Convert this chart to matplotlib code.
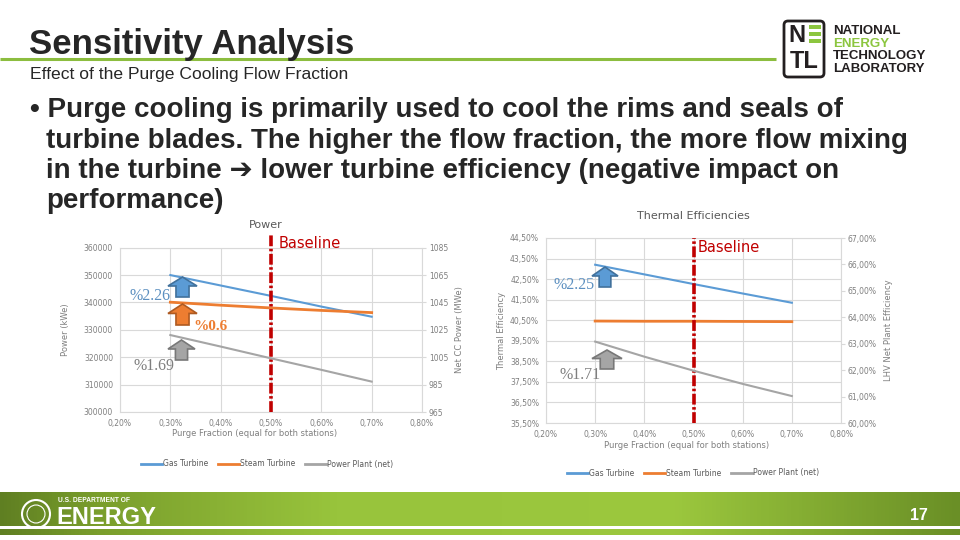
import numpy as np
import matplotlib
matplotlib.use('Agg')
import matplotlib.pyplot as plt
from matplotlib.patches import Polygon, Rectangle, FancyBboxPatch, Circle
from matplotlib.lines import Line2D
from matplotlib.ticker import FuncFormatter
from matplotlib.colors import LinearSegmentedColormap

# ---------------- data ----------------
purge = [0.003, 0.004, 0.005, 0.006, 0.007]
power_gt = [350000, 346200, 342400, 338500, 334800]      # kWe (left axis)
power_st = [340100, 339000, 338000, 337100, 336300]      # kWe (left axis)
power_net = [1021.2, 1012.8, 1004.2, 995.8, 987.2]       # MWe (right axis)
eff_gt = [43.20, 42.73, 42.26, 41.80, 41.35]             # % (left axis)
eff_st = [40.46, 40.45, 40.45, 40.44, 40.43]             # % (left axis)
eff_net = [63.08, 62.51, 61.98, 61.48, 61.02]            # % (right axis)
baseline = 0.005
series = ['Gas Turbine', 'Steam Turbine', 'Power Plant (net)']
colors = ['#5b9bd5', '#ed7d31', '#a5a5a5']
power_changes = ['%2.26', '%0.6', '%1.69']
eff_changes = ['%2.25', '%1.71']
x_ticks = [0.002, 0.003, 0.004, 0.005, 0.006, 0.007, 0.008]
power_left_ticks = [300000, 310000, 320000, 330000, 340000, 350000, 360000]
power_right_ticks = [965, 985, 1005, 1025, 1045, 1065, 1085]
eff_left_ticks = [35.5, 36.5, 37.5, 38.5, 39.5, 40.5, 41.5, 42.5, 43.5, 44.5]
eff_right_ticks = [60, 61, 62, 63, 64, 65, 66, 67]
bullet_lines = ['\u2022 Purge cooling is primarily used to cool the rims and seals of',
                'turbine blades. The higher the flow fraction, the more flow mixing',
                'in the turbine \u2794 lower turbine efficiency (negative impact on',
                'performance)']

W, H = 960, 540
fig = plt.figure(figsize=(9.6, 5.4), dpi=100)
fig.patch.set_facecolor('white')

GRID = '#d9d9d9'
TXT = '#7f7f7f'
BASE = '#c00000'
SANS = ['Liberation Sans', 'DejaVu Sans']


def px_rect(x0, y0, x1, y1):
    return [x0 / W, 1 - y1 / H, (x1 - x0) / W, (y1 - y0) / H]


def pct_x(v, p):
    return f"{v*100:.2f}%".replace('.', ',')


def style_axes(ax):
    ax.set_facecolor('white')
    for s in ax.spines.values():
        s.set_color(GRID)
        s.set_linewidth(0.8)
    ax.tick_params(labelsize=5.5, colors=TXT, length=0, pad=5)
    ax.grid(True, color=GRID, linewidth=0.8)
    ax.set_axisbelow(True)


# ---------------- left chart: Power ----------------
ax1 = fig.add_axes(px_rect(120, 247.7, 422, 412))
style_axes(ax1)
ax1.set_xlim(0.002, 0.008)
ax1.set_ylim(300000, 360000)
ax1.set_xticks(x_ticks)
ax1.set_yticks(power_left_ticks)
ax1.xaxis.set_major_formatter(FuncFormatter(pct_x))
ax1.plot(purge, power_gt, color=colors[0], lw=1.5, zorder=3)
ax1.plot(purge, power_st, color=colors[1], lw=2.0, zorder=3)
ax1.axvline(baseline, ymin=0, ymax=1.085, clip_on=False, color=BASE, lw=2.6,
            dashes=(3, 0.7, 0.7, 0.7), zorder=5)
ax1b = ax1.twinx()
ax1b.set_ylim(965, 1085)
ax1b.set_yticks(power_right_ticks)
for s in ax1b.spines.values():
    s.set_visible(False)
ax1b.tick_params(labelsize=5.5, colors=TXT, length=3, width=0.8, pad=2)
ax1b.tick_params(axis='y', color=GRID)
ax1b.plot(purge, power_net, color=colors[2], lw=1.5, zorder=3)
ax1.set_ylabel('Power (kWe)', fontsize=6, color=TXT)
ax1.yaxis.set_label_coords(-0.165, 0.5)
ax1b.set_ylabel('Net CC Power (MWe)', fontsize=6, color=TXT)
ax1b.yaxis.set_label_coords(1.11, 0.5)
ax1.set_xlabel('Purge Fraction (equal for both stations)', fontsize=6, color=TXT)
ax1.xaxis.set_label_coords(0.444, -0.105)

handles = [Line2D([], [], color=c, lw=2) for c in colors]
leg1 = ax1.legend(handles, series, loc='center', bbox_to_anchor=(267 / W, 1 - 464 / H),
                  bbox_transform=fig.transFigure, ncol=3, frameon=False, fontsize=5.5,
                  handlelength=2.8, handletextpad=0.15, columnspacing=1.2)
for t in leg1.get_texts():
    t.set_color('#595959')

# ---------------- right chart: Thermal efficiencies ----------------
ax2 = fig.add_axes(px_rect(546, 238, 841, 423))
style_axes(ax2)
ax2.set_xlim(0.002, 0.008)
ax2.set_ylim(35.5, 44.5)
ax2.set_xticks(x_ticks)
ax2.set_yticks(eff_left_ticks)
ax2.xaxis.set_major_formatter(FuncFormatter(pct_x))
ax2.yaxis.set_major_formatter(FuncFormatter(lambda v, p: f"{v:.2f}%".replace('.', ',')))
ax2.plot(purge, eff_gt, color=colors[0], lw=1.5, zorder=3)
ax2.plot(purge, eff_st, color=colors[1], lw=2.0, zorder=3)
ax2.axvline(baseline, ymin=0, ymax=1.0, clip_on=False, color=BASE, lw=2.6,
            dashes=(3, 0.7, 0.7, 0.7), zorder=5)
ax2b = ax2.twinx()
ax2b.set_ylim(60, 67)
ax2b.set_yticks(eff_right_ticks)
ax2b.yaxis.set_major_formatter(FuncFormatter(lambda v, p: f"{v:.2f}%".replace('.', ',')))
for s in ax2b.spines.values():
    s.set_visible(False)
ax2b.tick_params(labelsize=5.5, colors=TXT, length=3, width=0.8, pad=2)
ax2b.tick_params(axis='y', color=GRID)
ax2b.plot(purge, eff_net, color=colors[2], lw=1.5, zorder=3)
ax2.set_ylabel('Thermal Efficiency', fontsize=6, color=TXT)
ax2.yaxis.set_label_coords(-0.136, 0.5)
ax2b.set_ylabel('LHV Net Plant Efficiency', fontsize=6, color=TXT)
ax2b.yaxis.set_label_coords(1.146, 0.5)
ax2.set_xlabel('Purge Fraction (equal for both stations)', fontsize=6, color=TXT)
ax2.xaxis.set_label_coords(0.475, -0.1)
leg2 = ax2.legend(handles, series, loc='center', bbox_to_anchor=(693 / W, 1 - 473 / H),
                  bbox_transform=fig.transFigure, ncol=3, frameon=False, fontsize=5.5,
                  handlelength=2.8, handletextpad=0.15, columnspacing=1.2)
for t in leg2.get_texts():
    t.set_color('#595959')

# ---------------- overlay (slide decorations) ----------------
ov = fig.add_axes([0, 0, 1, 1], zorder=10)
ov.set_xlim(0, W)
ov.set_ylim(H, 0)
ov.axis('off')
ov.patch.set_alpha(0)

# title area
ov.text(29, 54, 'Sensitivity Analysis', fontsize=25, family=SANS, weight='bold',
        color='#262626', va='baseline', ha='left')
ov.plot([0, 776], [58.5, 58.5], color='#8cbd3f', lw=2.2, solid_capstyle='butt')
ov.text(30, 75, 'Effect of the Purge Cooling Flow Fraction', fontsize=12.6,
        family=SANS, color='#262626', va='center', ha='left')

# NETL logo
ov.add_patch(FancyBboxPatch((784, 21), 40, 56, boxstyle='round,pad=0,rounding_size=4',
                            fc='white', ec='#231f20', lw=2))
ov.text(797, 36, 'N', fontsize=17, weight='bold', family=SANS,
        color='#231f20', ha='center', va='center')
for yb in (27, 34, 41):
    ov.add_patch(Rectangle((809, yb - 2), 12, 4, fc='#8cc63f', ec='none'))
ov.text(804, 62, 'TL', fontsize=17, weight='bold', family=SANS,
        color='#231f20', ha='center', va='center')
for i, (w, c) in enumerate([('NATIONAL', '#231f20'), ('ENERGY', '#8cc63f'),
                            ('TECHNOLOGY', '#231f20'), ('LABORATORY', '#231f20')]):
    ov.text(833, 31 + i * 12.7, w, fontsize=9.5, weight='bold', family=SANS,
            color=c, ha='left', va='center')

# bullets
for i, line in enumerate(bullet_lines):
    ov.text(30 if i == 0 else 46, 110 + i * 30.5, line, fontsize=20, weight='bold',
            family=SANS, color='#262626', ha='left', va='center')

# chart titles and baseline labels
ov.text(266, 225, 'Power', fontsize=8, color='#595959', ha='center', va='center')
ov.text(693, 216, 'Thermal Efficiencies', fontsize=8, color='#595959',
        ha='center', va='center')
ov.text(279, 244, 'Baseline', fontsize=10.5, color=BASE, ha='left', va='center')
ov.text(698, 247, 'Baseline', fontsize=10.5, color=BASE, ha='left', va='center')


def up_arrow(x0, x1, ytop, ybot, fc, ec):
    xc = (x0 + x1) / 2
    sw = (x1 - x0) * 0.45
    yh = ytop + (ybot - ytop) * 0.45
    pts = [(xc, ytop), (x1, yh), (xc + sw / 2, yh), (xc + sw / 2, ybot),
           (xc - sw / 2, ybot), (xc - sw / 2, yh), (x0, yh)]
    ov.add_patch(Polygon(pts, closed=True, fc=fc, ec=ec, lw=1.2, zorder=6))


up_arrow(168, 197, 277, 297, '#5b9bd5', '#41719c')
up_arrow(168, 197, 304, 325, '#ed7d31', '#ae5a21')
up_arrow(168, 195, 340, 360, '#a5a5a5', '#787878')
up_arrow(592, 618, 267, 287, '#5b9bd5', '#41719c')
up_arrow(592, 622, 350, 369, '#a5a5a5', '#787878')

ov.text(130, 296, power_changes[0], fontsize=11.5, family='Liberation Serif',
        color='#5b8fc0', ha='left', va='center')
ov.text(193, 327, power_changes[1], fontsize=11, family='Liberation Serif', weight='bold',
        color='#ed7d31', ha='left', va='center')
ov.text(134, 366, power_changes[2], fontsize=11.5, family='Liberation Serif',
        color='#7f7f7f', ha='left', va='center')
ov.text(553, 285, eff_changes[0], fontsize=11.5, family='Liberation Serif',
        color='#5b8fc0', ha='left', va='center')
ov.text(559, 375, eff_changes[1], fontsize=11.5, family='Liberation Serif',
        color='#7f7f7f', ha='left', va='center')

# footer gradient bar
cmap = LinearSegmentedColormap.from_list('g', [(0, '#5f7f22'), (0.1, '#7a9e2c'),
                                               (0.35, '#98c43c'), (0.7, '#9cc83e'),
                                               (1, '#6a8f26')])
grad = np.linspace(0, 1, 256).reshape(1, -1)
ov.imshow(grad, cmap=cmap, extent=(0, W, 526, 492), aspect='auto', zorder=1)
ov.imshow(grad, cmap=cmap, extent=(0, W, 535, 529), aspect='auto', zorder=1)
ov.set_xlim(0, W)
ov.set_ylim(H, 0)
ov.add_patch(Circle((36, 514), 14, fc='none', ec='white', lw=1.5, zorder=3))
ov.add_patch(Circle((36, 514), 9, fc='none', ec='white', lw=0.8, zorder=3))
ov.text(58, 500, 'U.S. DEPARTMENT OF', fontsize=4.8, weight='bold', color='white',
        family=SANS, ha='left', va='center', zorder=3)
ov.text(56, 518, 'ENERGY', fontsize=17, weight='bold', color='white',
        family=SANS, ha='left', va='center', zorder=3)
ov.text(919, 515, '17', fontsize=11.5, weight='bold', color='white',
        family=SANS, ha='center', va='center', zorder=3)

fig.savefig('out.png', dpi=100, facecolor='white')
